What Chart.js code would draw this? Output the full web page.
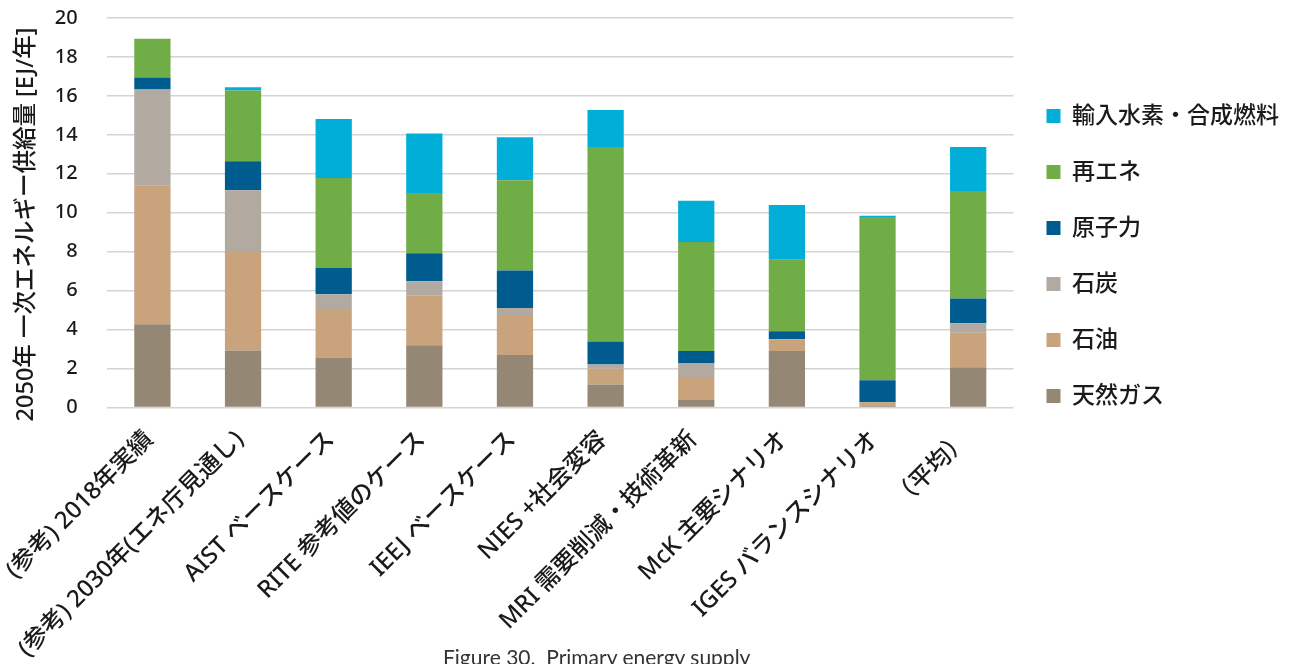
<!DOCTYPE html>
<html lang="ja">
<head>
<meta charset="utf-8">
<title>一次エネルギー供給量</title>
<script src="https://cdn.jsdelivr.net/npm/chart.js@4/dist/chart.umd.min.js"></script>
<style>
  html, body { margin: 0; padding: 0; background: #fff; overflow: hidden; }
  #wrap { position: relative; width: 1289px; height: 664px; overflow: hidden; }
  #caption {
    position: absolute; left: 443px; top: 646px;
    font: 21px Lato, "Open Sans", sans-serif; line-height: 1;
    color: #333; white-space: pre;
  }
</style>
</head>
<body>
<div id="wrap">
  <canvas id="chartContainer" width="1289" height="664"></canvas>
  <div id="caption">Figure 30.  Primary energy supply</div>
</div>
<script>
// Scenarios (x axis)
const categories = [
    '(参考) 2018年実績',
    '(参考) 2030年(エネ庁見通し)',
    'AIST ベースケース',
    'RITE 参考値のケース',
    'IEEJ ベースケース',
    'NIES +社会変容',
    'MRI 需要削減・技術革新',
    'McK 主要シナリオ',
    'IGES バランスシナリオ',
    '（平均）'
];

// Supply by source, EJ/year (stacked bottom to top)
const naturalGas = [4.27, 2.93, 2.57, 3.19, 2.69, 1.18, 0.39, 2.90, 0.10, 2.07];
const oil        = [7.11, 5.11, 2.43, 2.55, 2.06, 0.81, 1.12, 0.60, 0.17, 1.77];
const coal       = [4.95, 3.12, 0.81, 0.74, 0.36, 0.22, 0.77, 0.00, 0.00, 0.48];
const nuclear    = [0.62, 1.49, 1.37, 1.44, 1.93, 1.18, 0.62, 0.42, 1.13, 1.28];
const renewables = [1.99, 3.63, 4.61, 3.10, 4.63, 9.98, 5.60, 3.67, 8.38, 5.52];
const hydrogen   = [0.00, 0.16, 3.02, 3.05, 2.21, 1.90, 2.11, 2.81, 0.07, 2.25];

const yTicks = [0, 2, 4, 6, 8, 10, 12, 14, 16, 18, 20];

const seriesLabels = ['天然ガス', '石油', '石炭', '原子力', '再エネ', '輸入水素・合成燃料'];
const seriesColors = ['#948774', '#c9a37c', '#b2aaa0', '#005b8e', '#71ad46', '#00aed8'];
const seriesData = [naturalGas, oil, coal, nuclear, renewables, hydrogen];

Chart.defaults.font.family = '"Noto Sans", "Noto Sans CJK JP", sans-serif';
Chart.defaults.color = '#1a1a1a';

function renderChart() {
    const ctx = document.getElementById('chartContainer').getContext('2d');

    new Chart(ctx, {
        type: 'bar',
        data: {
            labels: categories,
            datasets: seriesData.map((values, i) => ({
                label: seriesLabels[i],
                data: values,
                backgroundColor: seriesColors[i],
                borderWidth: 0,
                categoryPercentage: 1.0,
                barPercentage: 0.4
            }))
        },
        options: {
            responsive: false,
            animation: false,
            layout: {
                // x labels run off the bottom edge
                padding: { top: 18, left: 12, right: 0, bottom: -2 }
            },
            plugins: {
                legend: {
                    position: 'right',
                    align: 'start',
                    reverse: true,
                    // empty title just pushes the items down
                    title: {
                        display: true,
                        text: '',
                        font: { size: 10, lineHeight: 1 },
                        padding: { top: 0, bottom: 43.5 }
                    },
                    labels: {
                        boxWidth: 14,
                        boxHeight: 14,
                        padding: 33,
                        color: '#1a1a1a',
                        font: { size: 23, weight: 500 }
                    }
                },
                tooltip: { enabled: false }
            },
            scales: {
                x: {
                    stacked: true,
                    grid: { display: false, drawTicks: true, tickLength: 15 },
                    border: { display: false },
                    ticks: {
                        autoSkip: false,
                        maxRotation: 45,
                        minRotation: 45,
                        padding: 3,
                        labelOffset: -3,
                        color: '#1a1a1a',
                        font: { size: 24, weight: 500 }
                    }
                },
                y: {
                    stacked: true,
                    min: 0,
                    max: 20,
                    afterBuildTicks: axis => {
                        axis.ticks = yTicks.map(v => ({ value: v }));
                    },
                    grid: {
                        color: '#d4d4d4',
                        lineWidth: 1.5,
                        drawTicks: true,
                        tickLength: 26.5,
                        tickColor: 'rgba(0,0,0,0)'
                    },
                    border: { display: false },
                    ticks: {
                        padding: 3,
                        color: '#1a1a1a',
                        font: { size: 20, weight: 500 }
                    },
                    title: {
                        display: true,
                        text: '2050年 一次エネルギー供給量 [EJ/年]\u3000',
                        color: '#1a1a1a',
                        font: { size: 23.5, weight: 500 },
                        padding: { top: 0, bottom: 11.5 }
                    }
                }
            }
        }
    });
}

renderChart();
</script>
</body>
</html>
